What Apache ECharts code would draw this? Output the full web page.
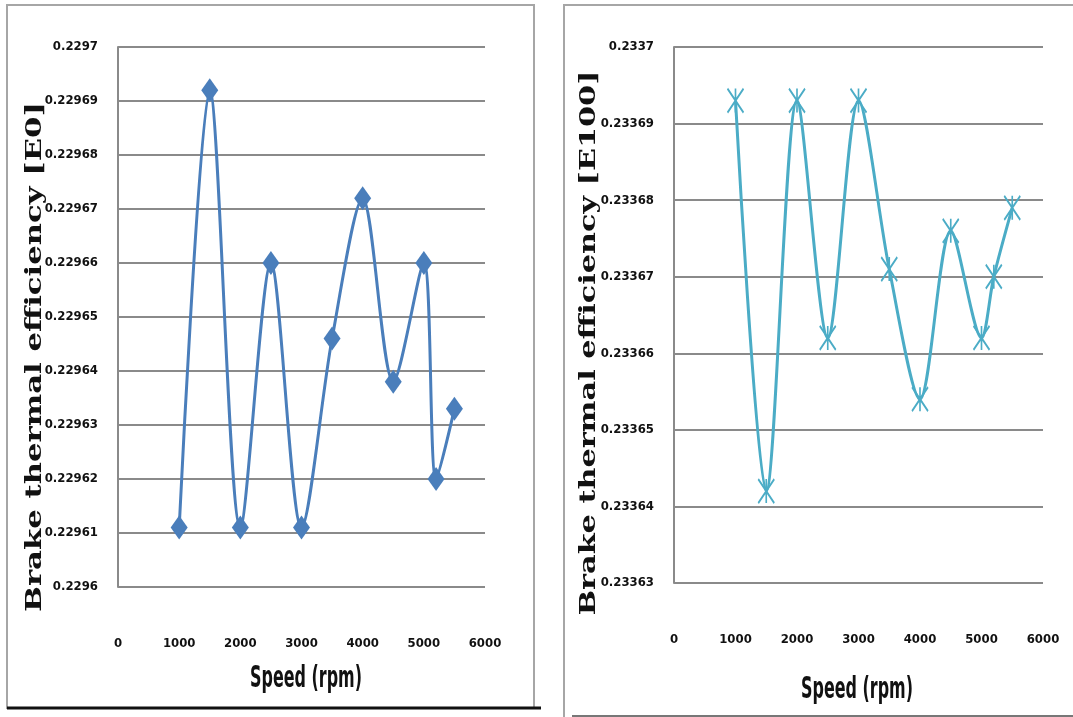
<!DOCTYPE html>
<html>
<head>
<meta charset="utf-8">
<script src="https://cdn.jsdelivr.net/npm/echarts@6/dist/echarts.min.js"></script>
<style>
  html, body { margin: 0; padding: 0; background: #fff; }
  #chart { width: 1073px; height: 717px; }
</style>
</head>
<body>
<div id="chart"></div>
<script>
// speeds (rpm) shared by both panels
const speeds = [1000, 1500, 2000, 2500, 3000, 3500, 4000, 4500, 5000, 5200, 5500];
// brake thermal efficiency, E0 fuel
const bteE0 = [0.229611, 0.229692, 0.229611, 0.229660, 0.229611, 0.229646, 0.229672, 0.229638, 0.229660, 0.229620, 0.229633];
// brake thermal efficiency, E100 fuel
const bteE100 = [0.233693, 0.233642, 0.233693, 0.233662, 0.233693, 0.233671, 0.233654, 0.233676, 0.233662, 0.233670, 0.233679];

const xTitle = "Speed (rpm)";
const yTitleE0 = "Brake thermal efficiency [E0]";
const yTitleE100 = "Brake thermal efficiency [E100]";

const blue = "#4a7ebb";
const teal = "#4bacc6";
const gridGray = "#8a8a8a";
const tickFont = '"DejaVu Sans Condensed", "Liberation Sans", sans-serif';
const titleFont = 'bold 22px "DejaVu Serif", serif';
const speedFont = 'bold 22px "DejaVu Sans Condensed", sans-serif';

const measureCtx = document.createElement("canvas").getContext("2d");
function textWidth(text, font) {
  measureCtx.font = font;
  return measureCtx.measureText(text).width;
}

const pairs = (ys) => speeds.map((s, i) => [s, ys[i]]);
const fmtY = (v) => String(parseFloat(v.toFixed(5)));

function xAxisFor(gridIndex) {
  return {
    type: "value",
    gridIndex,
    min: 0,
    max: 6000,
    interval: 1000,
    axisLine: { show: false },
    axisTick: { show: false },
    splitLine: { show: false },
    axisLabel: {
      color: "#111", fontFamily: tickFont, fontWeight: "bold", fontSize: 13, margin: 50,
      formatter: (v) => String(v),
    },
  };
}

function yAxisFor(gridIndex, min, max) {
  return {
    type: "value",
    gridIndex,
    min,
    max,
    interval: 0.00001,
    axisLine: { show: true, lineStyle: { color: gridGray, width: 2 } },
    axisTick: { show: false },
    splitLine: { lineStyle: { color: gridGray, width: 2 } },
    axisLabel: { color: "#111", fontFamily: tickFont, fontWeight: "bold", fontSize: 13, margin: 20, formatter: fmtY },
  };
}

function yTitle(text, cx, cy, len) {
  return {
    type: "text",
    x: cx,
    y: cy,
    rotation: Math.PI / 2,
    scaleX: len / textWidth(text, titleFont),
    style: { text, font: titleFont, fill: "#111", align: "center", verticalAlign: "middle" },
  };
}

function speedTitle(cx, cy) {
  return {
    type: "text",
    x: cx,
    y: cy,
    scaleX: 112 / textWidth(xTitle, speedFont),
    scaleY: 1.4,
    style: { text: xTitle, font: speedFont, fill: "#111", align: "center", verticalAlign: "middle" },
  };
}

const chart = echarts.init(document.getElementById("chart"), null, { renderer: "canvas" });

chart.setOption({
  backgroundColor: "#fff",
  animation: false,
  grid: [
    { left: 118, right: 588, top: 47, bottom: 130 },
    { left: 674, right: 30, top: 47, bottom: 134 },
  ],
  xAxis: [xAxisFor(0), xAxisFor(1)],
  yAxis: [yAxisFor(0, 0.2296, 0.2297), yAxisFor(1, 0.23363, 0.2337)],
  series: [
    {
      name: "E0",
      type: "line",
      xAxisIndex: 0,
      yAxisIndex: 0,
      data: pairs(bteE0),
      smooth: 0.3,
      symbol: "diamond",
      symbolSize: [17, 24],
      lineStyle: { color: blue, width: 3 },
      itemStyle: { color: blue },
    },
    {
      name: "E100",
      type: "line",
      xAxisIndex: 1,
      yAxisIndex: 1,
      data: pairs(bteE100),
      smooth: 0.3,
      symbol: "path://M0,0L10,14M10,0L0,14M5,0L5,14",
      symbolSize: [16, 24],
      lineStyle: { color: teal, width: 3 },
      itemStyle: { color: "rgba(0,0,0,0)", borderColor: teal, borderWidth: 2 },
    },
  ],
  graphic: [
    // left panel frame
    { type: "rect", shape: { x: 7, y: 5, width: 527, height: 703 }, style: { fill: "none", stroke: "#a6a6a6", lineWidth: 2 }, z: -1 },
    { type: "line", shape: { x1: 7, y1: 708, x2: 541, y2: 708 }, style: { stroke: "#111", lineWidth: 3 } },
    // right panel frame
    { type: "rect", shape: { x: 564, y: 5, width: 520, height: 720 }, style: { fill: "none", stroke: "#a6a6a6", lineWidth: 2 }, z: -1 },
    { type: "line", shape: { x1: 572, y1: 716, x2: 1073, y2: 716 }, style: { stroke: "#777", lineWidth: 2 } },
    yTitle(yTitleE0, 35, 357, 510),
    yTitle(yTitleE100, 589, 343, 545),
    speedTitle(306, 679),
    speedTitle(857, 690),
  ],
});
</script>
</body>
</html>
